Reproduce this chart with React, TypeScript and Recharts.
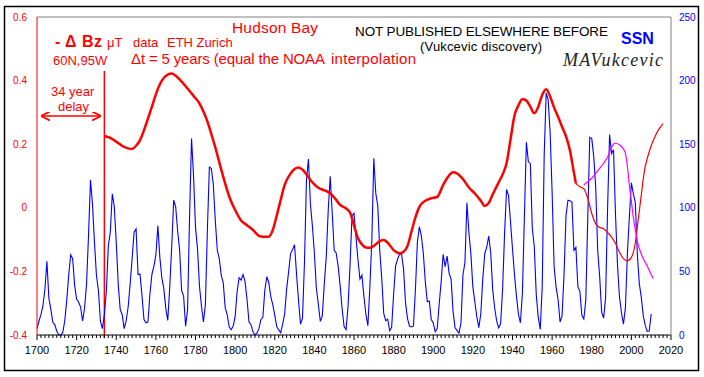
import React from 'react';
import { LineChart, Line, XAxis, YAxis, ReferenceLine } from 'recharts';

// yearly sunspot number, 1700..2010
const ssnStartYear = 1700;
const ssnValues = [
  5, 11, 16, 23, 36, 58, 29, 20, 10, 8, 3, 0, 0, 2, 11, 27, 47, 63, 60, 39,
  28, 26, 22, 11, 21, 40, 78, 122, 103, 73, 47, 35, 11, 5, 16, 34, 70, 81, 111, 101,
  73, 40, 20, 16, 5, 11, 22, 40, 60, 80.9, 83.4, 47.7, 47.8, 30.7, 12.2, 9.6, 10.2, 32.4, 47.6, 54,
  62.9, 85.9, 61.2, 45.1, 36.4, 20.9, 11.4, 37.8, 69.8, 106.1, 100.8, 81.6, 66.5, 34.8, 30.6, 7, 19.8, 92.5, 154.4, 125.9,
  84.8, 68.1, 38.5, 22.8, 10.2, 24.1, 82.9, 132, 130.9, 118.1, 89.9, 66.6, 60, 46.9, 41, 21.3, 16, 6.4, 4.1, 6.8,
  14.5, 34, 45, 43.1, 47.5, 42.2, 28.1, 10.1, 8.1, 2.5, 0, 1.4, 5, 12.2, 13.9, 35.4, 45.8, 41.1, 30.1, 23.9,
  15.6, 6.6, 4, 1.8, 8.5, 16.6, 36.3, 49.6, 64.2, 67, 70.9, 47.8, 27.5, 8.5, 13.2, 56.9, 121.5, 138.3, 103.2, 85.7,
  64.6, 36.7, 24.2, 10.7, 15, 40.1, 61.5, 98.5, 124.7, 96.3, 66.6, 64.5, 54.1, 39, 20.6, 6.7, 4.3, 22.7, 54.8, 93.8,
  95.8, 77.2, 59.1, 44, 47, 30.5, 16.3, 7.3, 37.6, 74, 139, 111.2, 101.6, 66.2, 44.7, 17, 11.3, 12.4, 3.4, 6,
  32.3, 54.3, 59.7, 63.7, 63.5, 52.2, 25.4, 13.1, 6.8, 6.3, 7.1, 35.6, 73, 85.1, 78, 64, 41.8, 26.2, 26.7, 12.1,
  9.5, 2.7, 5, 24.4, 42, 63.5, 53.8, 62, 48.5, 43.9, 18.6, 5.7, 3.6, 1.4, 9.6, 47.4, 57.1, 103.9, 80.6, 63.6,
  37.6, 26.1, 14.2, 5.8, 16.7, 44.3, 63.9, 69, 77.8, 64.9, 35.7, 21.2, 11.1, 5.7, 8.7, 36.1, 79.7, 114.4, 109.6, 88.8,
  67.8, 47.5, 30.6, 16.3, 9.6, 33.2, 92.6, 151.6, 136.3, 134.7, 83.9, 69.4, 31.5, 13.9, 4.4, 38, 141.7, 190.2, 184.8, 159,
  112.3, 53.9, 37.6, 27.9, 10.2, 15.1, 47, 93.8, 105.9, 105.5, 104.5, 66.6, 68.9, 38, 34.5, 15.5, 12.6, 27.5, 92.5, 155.4,
  154.6, 140.4, 115.9, 66.6, 45.9, 17.9, 13.4, 29.4, 100.2, 157.6, 142.6, 145.7, 94.3, 54.6, 29.9, 17.5, 8.6, 21.5, 64.3, 93.3,
  119.6, 111, 104, 63.7, 40.4, 29.8, 15.2, 7.5, 2.9, 3.1, 16.5,
];

// -dBz Hudson Bay, shifted by 34 years (thick red)
const bzYears = [
  1734, 1737, 1740, 1743, 1746, 1748, 1750, 1752, 1755, 1758, 1761, 1763, 1766, 1768, 1770, 1773, 1776, 1779, 1782, 1784,
  1786, 1788, 1790, 1793, 1796, 1798, 1800, 1803, 1806, 1809, 1812, 1814, 1817, 1819, 1821, 1823, 1825, 1828, 1830, 1832,
  1834, 1836, 1839, 1842, 1845, 1848, 1851, 1853, 1856, 1858, 1860, 1862, 1864, 1866, 1868, 1870, 1873, 1875, 1877, 1880,
  1883, 1885, 1887, 1889, 1891, 1893, 1896, 1899, 1902, 1905, 1908, 1910, 1912, 1915, 1918, 1921, 1924, 1926, 1928, 1930,
  1933, 1935, 1937, 1939, 1941, 1943, 1945, 1947, 1949, 1951, 1953, 1955, 1957, 1959, 1961, 1963, 1965, 1967, 1969, 1971,
  1972,
];
const bzValues = [
  0.226, 0.22, 0.208, 0.195, 0.187, 0.185, 0.195, 0.213, 0.262, 0.318, 0.374, 0.4, 0.419, 0.422, 0.415, 0.397, 0.375, 0.352, 0.328, 0.303,
  0.272, 0.232, 0.19, 0.12, 0.055, 0.02, -0.007, -0.04, -0.055, -0.07, -0.088, -0.091, -0.091, -0.07, -0.025, 0.025, 0.072, 0.108, 0.122, 0.127,
  0.12, 0.105, 0.08, 0.063, 0.055, 0.046, 0.025, 0.009, -0.002, -0.015, -0.055, -0.096, -0.115, -0.125, -0.126, -0.12, -0.105, -0.101, -0.11, -0.133,
  -0.143, -0.138, -0.12, -0.075, -0.03, 0.003, 0.022, 0.03, 0.034, 0.072, 0.102, 0.112, 0.108, 0.09, 0.064, 0.045, 0.022, 0.006, 0.015, 0.042,
  0.08, 0.105, 0.14, 0.215, 0.29, 0.322, 0.341, 0.337, 0.318, 0.297, 0.318, 0.355, 0.373, 0.35, 0.315, 0.286, 0.255, 0.225, 0.18, 0.11,
  0.076,
];

// continuation (thin red)
const bzLateYears = [1972, 1974, 1976, 1978, 1980, 1982, 1984, 1986, 1988, 1990, 1992, 1994, 1996, 1998, 2000, 2001, 2002, 2003, 2004, 2005, 2006, 2007, 2008, 2010, 2012, 2014, 2016];
const bzLateValues = [0.076, 0.066, 0.06, 0.03, -0.018, -0.05, -0.062, -0.066, -0.078, -0.092, -0.112, -0.14, -0.16, -0.167, -0.156, -0.14, -0.11, -0.06, -0.01, 0.04, 0.09, 0.13, 0.155, 0.195, 0.225, 0.248, 0.265];

// magenta
const altYears = [1976, 1978, 1980, 1982, 1984, 1986, 1988, 1990, 1991, 1992, 1994, 1996, 1997, 1998, 1999, 2000, 2001, 2002, 2003, 2004, 2006, 2008, 2010, 2011];
const altValues = [0.072, 0.082, 0.093, 0.108, 0.124, 0.14, 0.16, 0.19, 0.201, 0.203, 0.198, 0.185, 0.171, 0.13, 0.07, 0.02, -0.03, -0.07, -0.105, -0.128, -0.16, -0.183, -0.21, -0.222];

const xLabels = [1700, 1720, 1740, 1760, 1780, 1800, 1820, 1840, 1860, 1880, 1900, 1920, 1940, 1960, 1980, 2000, 2020];
const leftTicks = [-0.4, -0.2, 0, 0.2, 0.4, 0.6];
const rightTicks = [0, 50, 100, 150, 200, 250];

const FONT = 'Arial, "Liberation Sans", sans-serif';
const RED = '#ff0000';
const BLUE = '#0000ff';

const ssnData = ssnValues.map((v, i) => ({ year: ssnStartYear + i, v }));
const bzData = bzYears.map((year, i) => ({ year, v: bzValues[i] }));
const bzLateData = bzLateYears.map((year, i) => ({ year, v: bzLateValues[i] }));
const altData = altYears.map((year, i) => ({ year, v: altValues[i] }));

// minor tick every 2 years
const xTicks: number[] = [];
for (let y = xLabels[0]; y <= xLabels[xLabels.length - 1]; y += 2) xTicks.push(y);

const XTick = (props: any) => {
  const { x, y, payload } = props;
  const major = xLabels.includes(payload.value);
  return (
    <g>
      <line x1={x} x2={x} y1={y} y2={y + (major ? 5 : 3)} stroke="#000" strokeWidth={1} />
      {major && (
        <text x={x} y={y + 19} textAnchor="middle" fontSize={11} fontFamily={FONT} fill="#000">
          {payload.value}
        </text>
      )}
    </g>
  );
};

export default function App() {
  return (
    <div style={{ position: 'absolute', left: 0, top: 0, width: 704, height: 377, background: '#fff', fontFamily: FONT }}>
      <LineChart width={704} height={377} margin={{ top: 17, right: 0, bottom: 0, left: 0 }}>
        <XAxis
          dataKey="year"
          type="number"
          domain={[1700, 2020]}
          ticks={xTicks}
          interval={0}
          height={42}
          tickSize={0}
          tickMargin={0}
          tickLine={false}
          axisLine={{ stroke: '#000' }}
          tick={<XTick />}
          allowDataOverflow
        />
        <YAxis
          yAxisId="left"
          domain={[-0.4, 0.6]}
          ticks={leftTicks}
          width={37}
          tickSize={0}
          tickMargin={10}
          tickLine={false}
          axisLine={{ stroke: RED, strokeWidth: 1 }}
          tick={{ fill: RED, fontSize: 10, fontFamily: FONT }}
          tickFormatter={(v: number) => String(v)}
        />
        <YAxis
          yAxisId="right"
          orientation="right"
          domain={[0, 250]}
          ticks={rightTicks}
          width={33}
          tickSize={0}
          tickMargin={8}
          tickLine={false}
          axisLine={{ stroke: '#808080' }}
          tick={{ fill: BLUE, fontSize: 10, fontFamily: FONT }}
        />
        <ReferenceLine yAxisId="left" y={0.6} stroke="#808080" />
        <ReferenceLine
          yAxisId="left"
          segment={[{ x: 1734, y: 0.43 }, { x: 1734, y: -0.41 }]}
          stroke={RED}
          strokeWidth={1.5}
          ifOverflow="visible"
        />
        <Line yAxisId="right" data={ssnData} dataKey="v" type="linear" stroke={BLUE} strokeWidth={1.1} dot={false} isAnimationActive={false} />
        <Line yAxisId="left" data={bzData} dataKey="v" type="monotone" stroke={RED} strokeWidth={2.5} dot={false} isAnimationActive={false} />
        <Line yAxisId="left" data={bzLateData} dataKey="v" type="monotone" stroke={RED} strokeWidth={1.2} dot={false} isAnimationActive={false} />
        <Line yAxisId="left" data={altData} dataKey="v" type="monotone" stroke="#ff00ff" strokeWidth={1.2} dot={false} isAnimationActive={false} />
      </LineChart>
      <svg width={704} height={377} style={{ position: 'absolute', left: 0, top: 0, pointerEvents: 'none' }}>
        <defs>
          <marker id="ah" viewBox="0 0 8 8" refX="7" refY="4" markerWidth="6" markerHeight="6" orient="auto-start-reverse">
            <path d="M0,0 L8,4 L0,8" fill="none" stroke={RED} strokeWidth={1.5} />
          </marker>
        </defs>
        <rect x={4.5} y={6.5} width={694} height={364} fill="none" stroke="#000" strokeWidth={1.5} />
        <g fontFamily={FONT}>
          <text x={232} y={33} fontSize={15.5} fill={RED} textLength={86}>Hudson Bay</text>
          <text x={55} y={46.5} fontSize={16} fontWeight="bold" fill={RED} textLength={47}>- Δ Bz</text>
          <text x={107} y={46.5} fontSize={13} fill={RED}>μT</text>
          <text x={133} y={46.5} fontSize={13} fill={RED}>data</text>
          <text x={167} y={46.5} fontSize={13} fill={RED}>ETH Zurich</text>
          <text x={53} y={65} fontSize={13} fill={RED}>60N,95W</text>
          <text x={131} y={63.5} fontSize={15} fill={RED} textLength={194}>Δt = 5 years (equal the NOAA</text>
          <text x={331} y={63.5} fontSize={15} fill={RED} textLength={85}>interpolation</text>
          <text x={355} y={36} fontSize={13.5} fill="#000" textLength={253}>NOT PUBLISHED ELSEWHERE BEFORE</text>
          <text x={420} y={50.5} fontSize={13} fill="#000" textLength={122}>(Vukcevic discovery)</text>
          <text x={621} y={43.5} fontSize={16} fontWeight="bold" fill={BLUE}>SSN</text>
          <text x={51} y={96} fontSize={13} fill={RED}>34 year</text>
          <text x={58} y={111} fontSize={13} fill={RED}>delay</text>
        </g>
        <text x={563} y={66} fontSize={18} fontStyle="italic" fontFamily='"Liberation Serif", "DejaVu Serif", serif' fill="#222" textLength={100}>MAVukcevic</text>
        <line x1={42} y1={116} x2={100} y2={116} stroke={RED} strokeWidth={1.5} markerStart="url(#ah)" markerEnd="url(#ah)" />
      </svg>
    </div>
  );
}
